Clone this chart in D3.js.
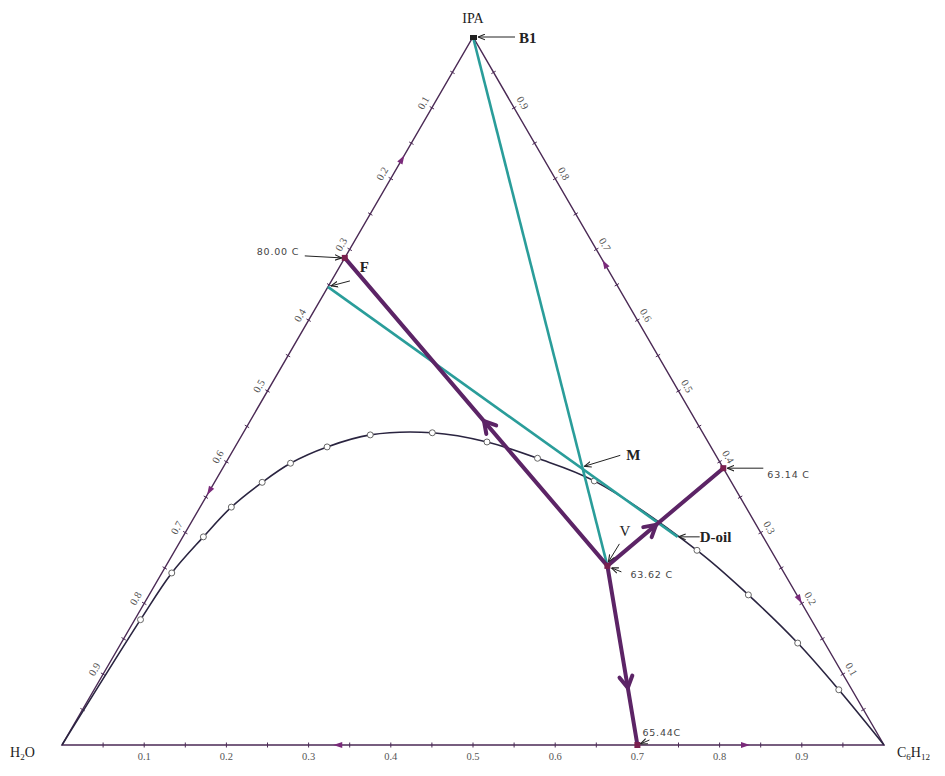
<!DOCTYPE html>
<html>
<head>
<meta charset="utf-8">
<script src="https://cdn.jsdelivr.net/npm/d3@7"></script>
<style>
  body { margin: 0; background: #fff; }
</style>
</head>
<body>
<div id="ternaire"></div>
<script>
// compositions en fraction molaire : IPA et C6H12 (H2O = 1 - IPA - C6H12)

// courbe binodale
const binodalIPA   = [0, 0.177, 0.243, 0.294, 0.336, 0.371, 0.398, 0.421, 0.438, 0.441, 0.428, 0.405, 0.373, 0.275, 0.212, 0.144, 0.078, 0];
const binodalC6H12 = [0, 0.007, 0.012, 0.025, 0.038, 0.058, 0.079, 0.112, 0.156, 0.230, 0.303, 0.376, 0.461, 0.635, 0.729, 0.823, 0.906, 1];

// azéotropes
const azeoLabels = ["80.00 C", "63.14 C", "63.62 C", "65.44C"];
const azeoIPA    = [0.688, 0.391, 0.253, 0];
const azeoC6H12  = [0, 0.609, 0.537, 0.700];

// points du procédé
const procNames = ["B1", "F", "M", "D-oil", "V"];
const procIPA   = [1, 0.647, 0.395, 0.294, 0.253];
const procC6H12 = [0, 0, 0.433, 0.602, 0.537];

// graduations
const tickLabels = ["0.1", "0.2", "0.3", "0.4", "0.5", "0.6", "0.7", "0.8", "0.9"];
const tickValues = [0.1, 0.2, 0.3, 0.4, 0.5, 0.6, 0.7, 0.8, 0.9];
const minorTicks = [0.05, 0.15, 0.25, 0.35, 0.45, 0.55, 0.65, 0.75, 0.85, 0.95];

// flèches sur les côtés (sens des courbes de résidu)
const edgeArrowIPA    = [0.833, 0.353, 0.685, 0.200, 0, 0];
const edgeArrowC6H12  = [0, 0, 0.315, 0.800, 0.330, 0.837];
const edgeArrowToward = ["IPA", "H2O", "IPA", "C6H12", "H2O", "C6H12"];

// lignes de frontière depuis l'azéotrope ternaire (index 2) et position des flèches
const boundaryTo  = [0, 1, 3];
const boundaryArr = [0.47, 0.42, 0.68];

const width = 945, height = 776;

const svg = d3.select("#ternaire").append("svg")
    .attr("width", width)
    .attr("height", height)
    .style("font-family", "Liberation Serif, serif");

const g = svg.append("g");

// échelles : x cartésien = C6H12 + IPA/2, y = IPA
const x = d3.scaleLinear().domain([0, 1]).range([62, 884]);
const y = d3.scaleLinear().domain([0, 1]).range([745, 37]);
const proj = (ipa, c) => [x(c + ipa / 2), y(ipa)];

const vertexPos = { H2O: proj(0, 0), C6H12: proj(0, 1), IPA: proj(1, 0) };

const edgeCol = "#4b2a55", tealCol = "#2a9d9a", purpleCol = "#5c2466";

// flèche pour les renvois
svg.append("defs").append("marker")
    .attr("id", "fleche")
    .attr("viewBox", "0 0 10 10")
    .attr("refX", 10).attr("refY", 5)
    .attr("markerWidth", 7).attr("markerHeight", 7)
    .attr("orient", "auto")
    .append("path")
    .attr("d", "M0,1 L10,5 L0,9")
    .attr("fill", "none")
    .attr("stroke", "#222")
    .attr("stroke-width", 1.6);

// triangle
g.append("path")
    .attr("d", d3.line()([vertexPos.H2O, vertexPos.C6H12, vertexPos.IPA]) + "Z")
    .attr("fill", "none")
    .attr("stroke", edgeCol)
    .attr("stroke-width", 1.4);

// petites graduations
const allTicks = tickValues.concat(minorTicks);
function tickSeg(p, n, len) {
    return [[p[0] - n[0] * len, p[1] - n[1] * len], [p[0] + n[0] * len, p[1] + n[1] * len]];
}
allTicks.forEach(t => {
    const segs = [
        tickSeg(proj(0, t), [0, 1], 2.5),
        tickSeg(proj(1 - t, 0), [-0.866, -0.5], 2.5),
        tickSeg(proj(t, 1 - t), [0.866, -0.5], 2.5)
    ];
    segs.forEach(s => {
        g.append("path").attr("d", d3.line()(s))
            .attr("stroke", edgeCol).attr("stroke-width", 1);
    });
});

// étiquettes des graduations
const tickFont = 10.5, tickCol = "#555";
tickValues.forEach((t, i) => {
    const pb = proj(0, t);
    g.append("text")
        .attr("x", pb[0]).attr("y", pb[1] + 15)
        .attr("text-anchor", "middle")
        .attr("font-size", tickFont).attr("fill", tickCol)
        .text(tickLabels[i]);

    const pl = proj(1 - t, 0);
    const lx = pl[0] - 0.866 * 10, ly = pl[1] - 0.5 * 10;
    g.append("text")
        .attr("transform", `translate(${lx},${ly}) rotate(-60)`)
        .attr("text-anchor", "middle").attr("dy", "0.35em")
        .attr("font-size", tickFont).attr("fill", tickCol)
        .text(tickLabels[i]);

    const pr = proj(t, 1 - t);
    const rx = pr[0] + 0.866 * 10, ry = pr[1] - 0.5 * 10;
    g.append("text")
        .attr("transform", `translate(${rx},${ry}) rotate(60)`)
        .attr("text-anchor", "middle").attr("dy", "0.35em")
        .attr("font-size", tickFont).attr("fill", tickCol)
        .text(tickLabels[i]);
});

// flèches sur les côtés
edgeArrowIPA.forEach((ipa, i) => {
    const tip = proj(ipa, edgeArrowC6H12[i]);
    const v = vertexPos[edgeArrowToward[i]];
    const dx = v[0] - tip[0], dy = v[1] - tip[1], L = Math.hypot(dx, dy);
    const ux = dx / L, uy = dy / L;
    const b = [tip[0] - ux * 9, tip[1] - uy * 9];
    g.append("path")
        .attr("d", d3.line()([tip, [b[0] - uy * 3, b[1] + ux * 3], [b[0] + uy * 3, b[1] - ux * 3]]) + "Z")
        .attr("fill", "#7a2a7a");
});

// courbe binodale
const binodal = binodalIPA.map((ipa, i) => proj(ipa, binodalC6H12[i]));
g.append("path")
    .attr("d", d3.line().curve(d3.curveCatmullRom)(binodal))
    .attr("fill", "none")
    .attr("stroke", "#2a2440")
    .attr("stroke-width", 1.6);

g.selectAll(".binode")
    .data(binodal.slice(1, -1))
    .enter().append("circle")
    .attr("class", "binode")
    .attr("cx", d => d[0]).attr("cy", d => d[1])
    .attr("r", 3)
    .attr("fill", "#fff")
    .attr("stroke", "#666")
    .attr("stroke-width", 1);

// lignes de mélange (bilan matière)
const pp = procIPA.map((ipa, i) => proj(ipa, procC6H12[i]));
[[0, 4], [1, 3]].forEach(pair => {
    g.append("path")
        .attr("d", d3.line()([pp[pair[0]], pp[pair[1]]]))
        .attr("stroke", tealCol)
        .attr("stroke-width", 2.6);
});

// frontières de distillation
const ap = azeoIPA.map((ipa, i) => proj(ipa, azeoC6H12[i]));
boundaryTo.forEach((j, k) => {
    const p0 = ap[2], p1 = ap[j];
    g.append("path")
        .attr("d", d3.line()([p0, p1]))
        .attr("stroke", purpleCol)
        .attr("stroke-width", 4)
        .attr("stroke-linecap", "round");
    const f = boundaryArr[k];
    const tip = [p0[0] + f * (p1[0] - p0[0]), p0[1] + f * (p1[1] - p0[1])];
    const L = Math.hypot(p1[0] - p0[0], p1[1] - p0[1]);
    const ux = (p1[0] - p0[0]) / L, uy = (p1[1] - p0[1]) / L;
    const arm = 13, c = Math.cos(Math.PI / 6), s = Math.sin(Math.PI / 6);
    const a1 = [tip[0] - arm * (ux * c - uy * s), tip[1] - arm * (uy * c + ux * s)];
    const a2 = [tip[0] - arm * (ux * c + uy * s), tip[1] - arm * (uy * c - ux * s)];
    g.append("path")
        .attr("d", d3.line()([a1, tip, a2]))
        .attr("fill", "none")
        .attr("stroke", purpleCol)
        .attr("stroke-width", 4)
        .attr("stroke-linecap", "round");
});

// marqueurs des azéotropes
g.selectAll(".azeo")
    .data(ap)
    .enter().append("rect")
    .attr("class", "azeo")
    .attr("x", d => d[0] - 3).attr("y", d => d[1] - 3)
    .attr("width", 6).attr("height", 6)
    .attr("fill", "#7a1f4f");

// renvois et étiquettes
function renvoi(from, to) {
    g.append("path")
        .attr("d", d3.line()([from, to]))
        .attr("stroke", "#222")
        .attr("stroke-width", 1)
        .attr("marker-end", "url(#fleche)");
}
const smallFont = "DejaVu Sans, sans-serif";

// températures
const tempOffsets = [[-88, -3, -40, -2, -3, 0], [44, 10, 40, 0, 4, 0], [23, 12, 14, 6, 4, 2], [5, -9, 12, -5, 3, -1]];
azeoLabels.forEach((lab, i) => {
    const p = ap[i], o = tempOffsets[i];
    g.append("text")
        .attr("x", p[0] + o[0]).attr("y", p[1] + o[1])
        .attr("font-family", smallFont)
        .attr("font-size", 9.5)
        .attr("letter-spacing", 0.8)
        .attr("fill", "#444")
        .text(lab);
    renvoi([p[0] + o[2], p[1] + o[3]], [p[0] + o[4], p[1] + o[5]]);
});

// B1
renvoi([pp[0][0] + 42, pp[0][1]], [pp[0][0] + 5, pp[0][1]]);
g.append("text").attr("x", pp[0][0] + 46).attr("y", pp[0][1] + 6)
    .attr("font-size", 15).attr("font-weight", "bold").attr("fill", "#222").text(procNames[0]);
g.append("rect").attr("x", pp[0][0] - 3).attr("y", pp[0][1] - 2).attr("width", 7).attr("height", 5).attr("fill", "#222");

// F
renvoi([pp[1][0] + 22, pp[1][1] - 6], [pp[1][0] + 3, pp[1][1] - 1]);
g.append("text").attr("x", ap[0][0] + 15).attr("y", ap[0][1] + 14)
    .attr("font-size", 15).attr("font-weight", "bold").attr("fill", "#222").text(procNames[1]);

// M
renvoi([pp[2][0] + 40, pp[2][1] - 10], [pp[2][0] + 4, pp[2][1] + 1]);
g.append("text").attr("x", pp[2][0] + 46).attr("y", pp[2][1] - 5)
    .attr("font-size", 15).attr("font-weight", "bold").attr("fill", "#222").text(procNames[2]);

// D-oil
renvoi([pp[3][0] + 22, pp[3][1]], [pp[3][0] + 1, pp[3][1]]);
g.append("text").attr("x", pp[3][0] + 22).attr("y", pp[3][1] + 5)
    .attr("font-size", 15).attr("font-weight", "bold").attr("fill", "#222").text(procNames[3]);

// V
renvoi([pp[4][0] + 12, pp[4][1] - 22], [pp[4][0] + 1, pp[4][1] - 4]);
g.append("text").attr("x", pp[4][0] + 12).attr("y", pp[4][1] - 30)
    .attr("font-size", 15).attr("fill", "#222").text(procNames[4]);

// sommets
g.append("text").attr("x", vertexPos.IPA[0]).attr("y", vertexPos.IPA[1] - 14)
    .attr("text-anchor", "middle").attr("font-size", 14).attr("fill", "#222").text("IPA");

const h2o = g.append("text").attr("x", 10).attr("y", vertexPos.H2O[1] + 12)
    .attr("font-size", 14).attr("fill", "#222");
h2o.append("tspan").text("H");
h2o.append("tspan").attr("font-size", 9).attr("dy", 3).text("2");
h2o.append("tspan").attr("dy", -3).text("O");

const c6 = g.append("text").attr("x", vertexPos.C6H12[0] + 13).attr("y", vertexPos.C6H12[1] + 12)
    .attr("font-size", 14).attr("fill", "#222");
c6.append("tspan").text("C");
c6.append("tspan").attr("font-size", 9).attr("dy", 3).text("6");
c6.append("tspan").attr("dy", -3).text("H");
c6.append("tspan").attr("font-size", 9).attr("dy", 3).text("12");
</script>
</body>
</html>
